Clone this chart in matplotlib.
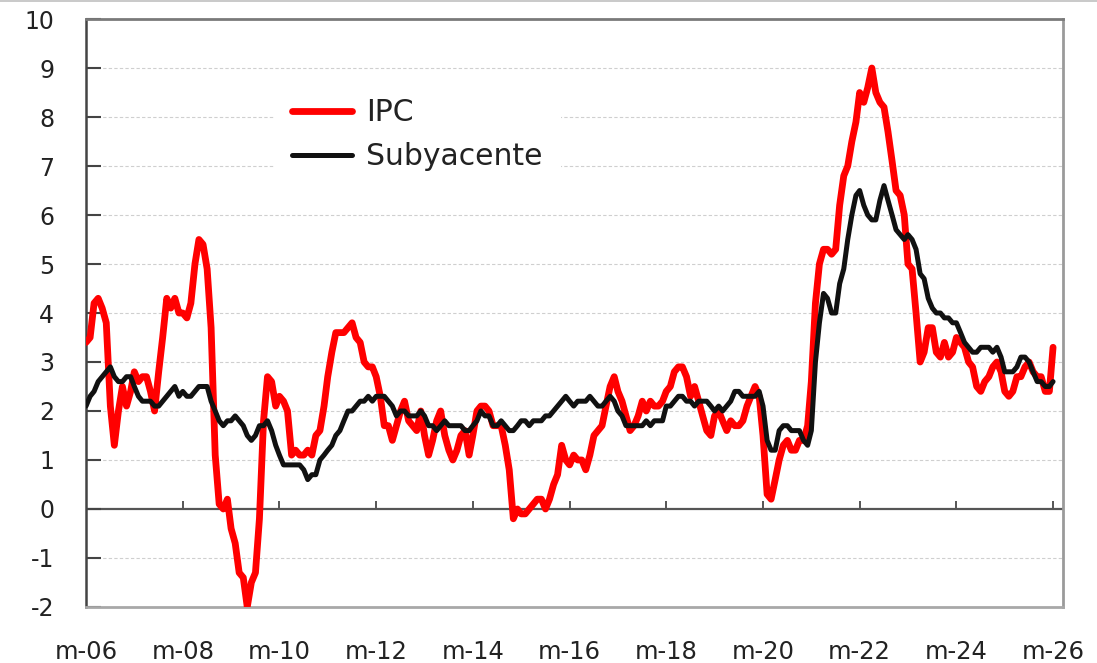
import numpy as np
import pandas as pd
import matplotlib
matplotlib.use("Agg")
import matplotlib.pyplot as plt
from matplotlib.lines import Line2D

plt.rcParams['font.family'] = ['DejaVu Sans']
plt.rcParams['axes.unicode_minus'] = False

# meses: marzo 2006 -> marzo 2026
meses = pd.date_range('2006-03-01', '2026-03-01', freq='MS')

ipc = [
    3.4, 3.5, 4.2, 4.3, 4.1, 3.8, 2.1, 1.3, 2.0, 2.5,                  # 2006
    2.1, 2.4, 2.8, 2.6, 2.7, 2.7, 2.4, 2.0, 2.8, 3.5, 4.3, 4.1,        # 2007
    4.3, 4.0, 4.0, 3.9, 4.2, 5.0, 5.5, 5.4, 4.9, 3.7, 1.1, 0.1,        # 2008
    0.0, 0.2, -0.4, -0.7, -1.3, -1.4, -2.0, -1.5, -1.3, -0.2, 1.8, 2.7,  # 2009
    2.6, 2.1, 2.3, 2.2, 2.0, 1.1, 1.2, 1.1, 1.1, 1.2, 1.1, 1.5,        # 2010
    1.6, 2.1, 2.7, 3.2, 3.6, 3.6, 3.6, 3.7, 3.8, 3.5, 3.4, 3.0,        # 2011
    2.9, 2.9, 2.7, 2.3, 1.7, 1.7, 1.4, 1.7, 2.0, 2.2, 1.8, 1.7,        # 2012
    1.6, 2.0, 1.5, 1.1, 1.4, 1.8, 2.0, 1.5, 1.2, 1.0, 1.2, 1.5,        # 2013
    1.6, 1.1, 1.5, 2.0, 2.1, 2.1, 2.0, 1.7, 1.7, 1.7, 1.3, 0.8,        # 2014
    -0.2, 0.0, -0.1, -0.1, 0.0, 0.1, 0.2, 0.2, 0.0, 0.2, 0.5, 0.7,     # 2015
    1.3, 1.0, 0.9, 1.1, 1.0, 1.0, 0.8, 1.1, 1.5, 1.6, 1.7, 2.1,        # 2016
    2.5, 2.7, 2.4, 2.2, 1.9, 1.6, 1.7, 1.9, 2.2, 2.0, 2.2, 2.1,        # 2017
    2.1, 2.2, 2.4, 2.5, 2.8, 2.9, 2.9, 2.7, 2.3, 2.5, 2.2, 1.9,        # 2018
    1.6, 1.5, 1.9, 2.0, 1.8, 1.6, 1.8, 1.7, 1.7, 1.8, 2.1, 2.3,        # 2019
    2.5, 2.3, 1.5, 0.3, 0.2, 0.6, 1.0, 1.3, 1.4, 1.2, 1.2, 1.4,        # 2020
    1.4, 1.7, 2.6, 4.2, 5.0, 5.3, 5.3, 5.2, 5.3, 6.2, 6.8, 7.0,        # 2021
    7.5, 7.9, 8.5, 8.3, 8.6, 9.0, 8.5, 8.3, 8.2, 7.7, 7.1, 6.5,        # 2022
    6.4, 6.0, 5.0, 4.9, 4.0, 3.0, 3.2, 3.7, 3.7, 3.2, 3.1, 3.4,        # 2023
    3.1, 3.2, 3.5, 3.4, 3.3, 3.0, 2.9, 2.5, 2.4, 2.6, 2.7, 2.9,        # 2024
    3.0, 2.8, 2.4, 2.3, 2.4, 2.7, 2.7, 2.9, 3.0, 2.8, 2.7, 2.7,        # 2025
    2.4, 2.4, 3.3,                                                     # 2026
]

subyacente = [
    2.1, 2.3, 2.4, 2.6, 2.7, 2.8, 2.9, 2.7, 2.6, 2.6,                  # 2006
    2.7, 2.7, 2.5, 2.3, 2.2, 2.2, 2.2, 2.1, 2.1, 2.2, 2.3, 2.4,        # 2007
    2.5, 2.3, 2.4, 2.3, 2.3, 2.4, 2.5, 2.5, 2.5, 2.2, 2.0, 1.8,        # 2008
    1.7, 1.8, 1.8, 1.9, 1.8, 1.7, 1.5, 1.4, 1.5, 1.7, 1.7, 1.8,        # 2009
    1.6, 1.3, 1.1, 0.9, 0.9, 0.9, 0.9, 0.9, 0.8, 0.6, 0.7, 0.7,        # 2010
    1.0, 1.1, 1.2, 1.3, 1.5, 1.6, 1.8, 2.0, 2.0, 2.1, 2.2, 2.2,        # 2011
    2.3, 2.2, 2.3, 2.3, 2.3, 2.2, 2.1, 1.9, 2.0, 2.0, 1.9, 1.9,        # 2012
    1.9, 2.0, 1.9, 1.7, 1.7, 1.6, 1.7, 1.8, 1.7, 1.7, 1.7, 1.7,        # 2013
    1.6, 1.6, 1.7, 1.8, 2.0, 1.9, 1.9, 1.7, 1.7, 1.8, 1.7, 1.6,        # 2014
    1.6, 1.7, 1.8, 1.8, 1.7, 1.8, 1.8, 1.8, 1.9, 1.9, 2.0, 2.1,        # 2015
    2.2, 2.3, 2.2, 2.1, 2.2, 2.2, 2.2, 2.3, 2.2, 2.1, 2.1, 2.2,        # 2016
    2.3, 2.2, 2.0, 1.9, 1.7, 1.7, 1.7, 1.7, 1.7, 1.8, 1.7, 1.8,        # 2017
    1.8, 1.8, 2.1, 2.1, 2.2, 2.3, 2.3, 2.2, 2.2, 2.1, 2.2, 2.2,        # 2018
    2.2, 2.1, 2.0, 2.1, 2.0, 2.1, 2.2, 2.4, 2.4, 2.3, 2.3, 2.3,        # 2019
    2.3, 2.4, 2.1, 1.4, 1.2, 1.2, 1.6, 1.7, 1.7, 1.6, 1.6, 1.6,        # 2020
    1.4, 1.3, 1.6, 3.0, 3.8, 4.4, 4.3, 4.0, 4.0, 4.6, 4.9, 5.5,        # 2021
    6.0, 6.4, 6.5, 6.2, 6.0, 5.9, 5.9, 6.3, 6.6, 6.3, 6.0, 5.7,        # 2022
    5.6, 5.5, 5.6, 5.5, 5.3, 4.8, 4.7, 4.3, 4.1, 4.0, 4.0, 3.9,        # 2023
    3.9, 3.8, 3.8, 3.6, 3.4, 3.3, 3.2, 3.2, 3.3, 3.3, 3.3, 3.2,        # 2024
    3.3, 3.1, 2.8, 2.8, 2.8, 2.9, 3.1, 3.1, 3.0, 2.8, 2.6, 2.6,        # 2025
    2.5, 2.5, 2.6,                                                     # 2026
]

ticks = pd.date_range('2006-03-01', '2026-03-01', freq='24MS')
tick_labels = ['m-%02d' % (d.year % 100) for d in ticks]

fig = plt.figure(figsize=(10.97, 6.63), dpi=100)
ax = fig.add_axes([0.0784, 0.0845, 0.8906, 0.8868])

# rejilla gris punteada
for y in [-1, 1, 2, 3, 4, 5, 6, 7, 8, 9]:
    ax.axhline(y, color='#cfcfcf', lw=0.8, ls=(0, (3, 2)), zorder=0)
ax.axhline(0, color='#555555', lw=1.6, zorder=1)
# marcas sobre el eje cero
ax.vlines(ticks, 0, 0.17, color='#555555', lw=1.4, zorder=1)

ax.plot(meses, ipc, color='#ff0000', lw=4.9, solid_joinstyle='round',
        solid_capstyle='round', label='IPC', zorder=3)
ax.plot(meses, subyacente, color='#111111', lw=3.6, solid_joinstyle='round',
        solid_capstyle='round', label='Subyacente', zorder=4)

ax.set_xlim(pd.Timestamp('2006-03-01'), pd.Timestamp('2026-05-15'))
ax.set_ylim(-2, 10)
ax.set_yticks(range(-2, 11))
ax.set_xticks(ticks)
ax.set_xticklabels(tick_labels)

ax.tick_params(axis='x', length=0, pad=24, labelsize=17.5, labelcolor='#222222')
ax.tick_params(axis='y', direction='in', length=11, width=1.5, color='#444444',
               pad=23, labelsize=17, labelcolor='#222222')

ax.spines['left'].set_color('#444444')
ax.spines['left'].set_linewidth(1.8)
ax.spines['top'].set_color('#7a7a7a')
ax.spines['top'].set_linewidth(2)
ax.spines['right'].set_color('#9a9a9a')
ax.spines['right'].set_linewidth(2)
ax.spines['bottom'].set_color('#a8a8a8')
ax.spines['bottom'].set_linewidth(2)

leg = ax.legend(loc='upper left', bbox_to_anchor=(0.177, 0.921), fontsize=21.5,
                frameon=True, facecolor='white', edgecolor='none', framealpha=1,
                handlelength=2.0, handletextpad=0.5, labelspacing=0.5,
                borderpad=0.6, fancybox=False)
for t in leg.get_texts():
    t.set_color('#222222')
leg.set_zorder(5)

# linea fina gris arriba de la imagen
fig.add_artist(Line2D([0, 1], [0.998, 0.998], transform=fig.transFigure,
                      color='#c0c0c0', lw=1.2))

fig.savefig('out.png', dpi=100)
